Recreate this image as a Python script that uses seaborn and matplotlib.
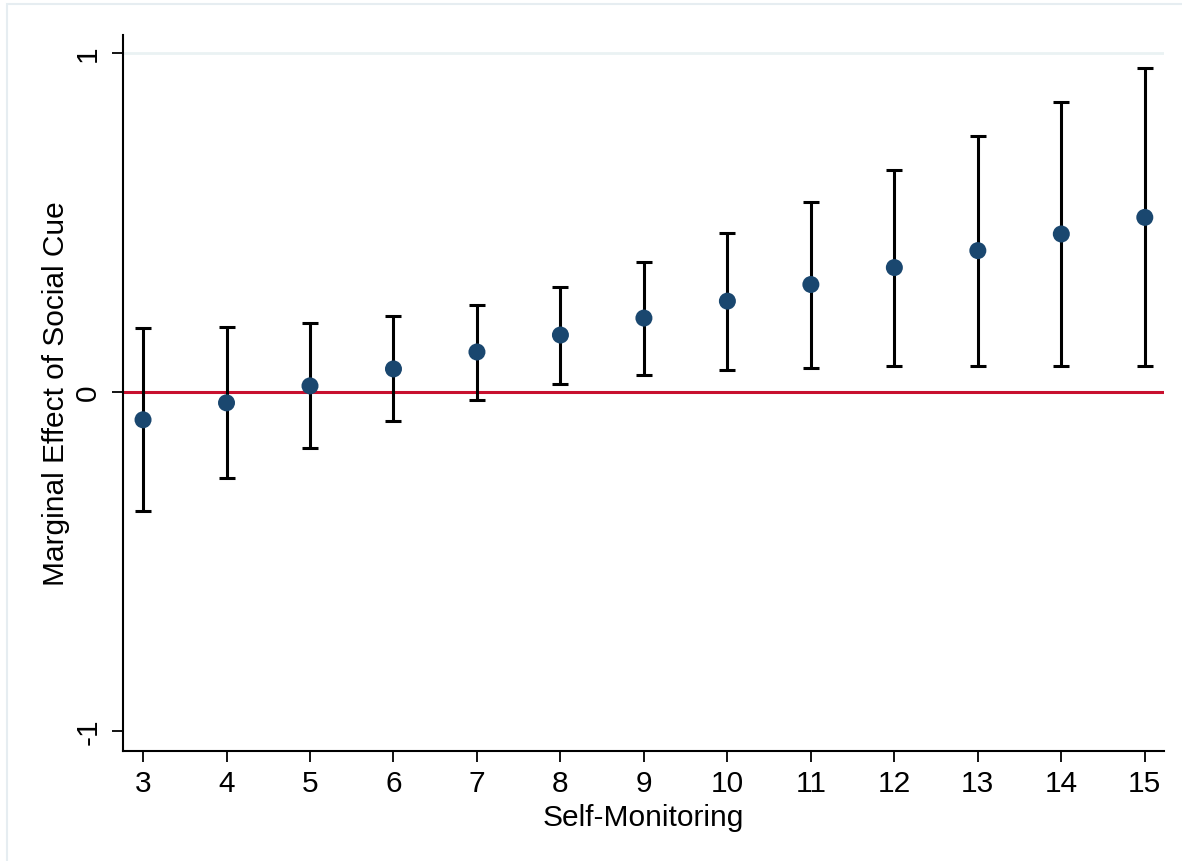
import matplotlib
matplotlib.use("Agg")
import matplotlib.pyplot as plt
import seaborn as sns
import pandas as pd
from matplotlib.patches import Rectangle

# Data
self_monitoring = [3, 4, 5, 6, 7, 8, 9, 10, 11, 12, 13, 14, 15]
effect = [-0.082, -0.032, 0.018, 0.068, 0.118, 0.168, 0.218, 0.268, 0.317, 0.367, 0.417, 0.466, 0.515]
ci_upper = [0.189, 0.193, 0.204, 0.224, 0.257, 0.31, 0.383, 0.469, 0.56, 0.655, 0.755, 0.855, 0.955]
ci_lower = [-0.35, -0.255, -0.165, -0.085, -0.024, 0.024, 0.05, 0.065, 0.071, 0.076, 0.077, 0.077, 0.077]
y_ticks = [-1, 0, 1]
y_ticklabels = ["-1", "0", "1"]

df = pd.DataFrame({"x": self_monitoring, "y": effect, "lo": ci_lower, "hi": ci_upper})

sns.set_theme(style="white")
plt.rcParams["font.family"] = ["Liberation Sans", "DejaVu Sans"]

fig = plt.figure(figsize=(11.82, 8.62), dpi=100)
ax = fig.add_axes([123 / 1182, 1 - 752 / 862, (1164 - 123) / 1182, (752 - 36) / 862])

# outer frame
fig.patches.append(Rectangle((7 / 1182, -0.05), 1.1, (862 - 5) / 862 + 0.05,
                             transform=fig.transFigure, fill=False,
                             edgecolor="#E6EDF1", lw=1.5, zorder=0))

ax.axhline(1, color="#EAF2F3", lw=2, zorder=1)
ax.axhline(0, color="#C8102E", lw=2.2, zorder=2)

yerr = [df["y"] - df["lo"], df["hi"] - df["y"]]
ax.errorbar(df["x"], df["y"], yerr=yerr, fmt="none", ecolor="black",
            elinewidth=2.2, capsize=5.5, capthick=2.2, zorder=3)
sns.scatterplot(data=df, x="x", y="y", ax=ax, color="#1A476F", s=150,
                edgecolor="none", zorder=4)

ax.set_xlim(2.76, 15.23)
ax.set_ylim(-1.059, 1.053)
ax.set_xticks(self_monitoring)
ax.set_xticklabels([str(v) for v in self_monitoring])
ax.set_yticks(y_ticks)
ax.set_yticklabels(y_ticklabels, rotation=90, va="center")

for s in ["top", "right"]:
    ax.spines[s].set_visible(False)
for s in ["left", "bottom"]:
    ax.spines[s].set_color("black")
    ax.spines[s].set_linewidth(1.5)

ax.tick_params(axis="both", which="major", direction="out", length=8, width=1.3,
               color="black", labelsize=21.5, labelcolor="black",
               left=True, bottom=True)
ax.tick_params(axis="x", pad=5)
ax.tick_params(axis="y", pad=7)
ax.set_xlabel("Self-Monitoring", fontsize=21.5, color="black", labelpad=4)
ax.set_ylabel("Marginal Effect of Social Cue", fontsize=21.5, color="black", labelpad=3)

fig.savefig("out.png", dpi=100)
